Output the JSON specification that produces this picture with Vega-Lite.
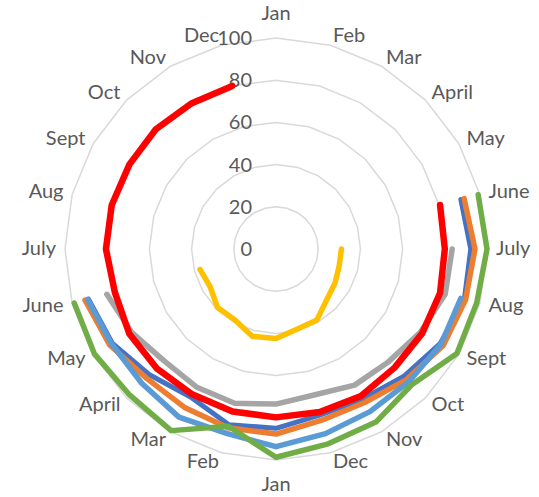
{
  "$schema": "https://vega.github.io/schema/vega-lite/v6.json",
  "width": 539,
  "height": 497,
  "padding": 0,
  "autosize": {"type": "none"},
  "background": "white",
  "config": {"view": {"stroke": null}},
  "datasets": {
    "series": [
      {"s": "blue", "k": 5, "v": 90.7}, {"s": "blue", "k": 6, "v": 92.3}, {"s": "blue", "k": 7, "v": 92.4}, {"s": "blue", "k": 8, "v": 89.8}, {"s": "blue", "k": 9, "v": 85.5}, {"s": "blue", "k": 10, "v": 82}, {"s": "blue", "k": 11, "v": 81.4}, {"s": "blue", "k": 12, "v": 85}, {"s": "blue", "k": 13, "v": 86.2}, {"s": "blue", "k": 14, "v": 81}, {"s": "blue", "k": 15, "v": 84.5}, {"s": "blue", "k": 16, "v": 89.5}, {"s": "blue", "k": 17, "v": 92},
      {"s": "orange", "k": 5, "v": 92.3}, {"s": "orange", "k": 6, "v": 94.3}, {"s": "orange", "k": 7, "v": 93}, {"s": "orange", "k": 8, "v": 91.5}, {"s": "orange", "k": 9, "v": 87.5}, {"s": "orange", "k": 10, "v": 84}, {"s": "orange", "k": 11, "v": 84}, {"s": "orange", "k": 12, "v": 87.7}, {"s": "orange", "k": 13, "v": 87.7}, {"s": "orange", "k": 14, "v": 86.7}, {"s": "orange", "k": 15, "v": 86.7}, {"s": "orange", "k": 16, "v": 91}, {"s": "orange", "k": 17, "v": 93.7},
      {"s": "gray", "k": 6, "v": 83.5}, {"s": "gray", "k": 7, "v": 83}, {"s": "gray", "k": 8, "v": 79}, {"s": "gray", "k": 9, "v": 75.5}, {"s": "gray", "k": 10, "v": 74.5}, {"s": "gray", "k": 11, "v": 71.5}, {"s": "gray", "k": 12, "v": 73.5}, {"s": "gray", "k": 13, "v": 75.7}, {"s": "gray", "k": 14, "v": 75.5}, {"s": "gray", "k": 15, "v": 75}, {"s": "gray", "k": 16, "v": 79}, {"s": "gray", "k": 17, "v": 83},
      {"s": "yellow", "k": 6, "v": 31}, {"s": "yellow", "k": 7, "v": 31}, {"s": "yellow", "k": 8, "v": 32.3}, {"s": "yellow", "k": 9, "v": 34}, {"s": "yellow", "k": 10, "v": 38.8}, {"s": "yellow", "k": 11, "v": 39.3}, {"s": "yellow", "k": 12, "v": 42.4}, {"s": "yellow", "k": 13, "v": 42.9}, {"s": "yellow", "k": 14, "v": 38.9}, {"s": "yellow", "k": 15, "v": 39.2}, {"s": "yellow", "k": 16, "v": 36}, {"s": "yellow", "k": 17, "v": 37.3},
      {"s": "lightblue", "k": 7, "v": 90.6}, {"s": "lightblue", "k": 8, "v": 90.3}, {"s": "lightblue", "k": 9, "v": 89}, {"s": "lightblue", "k": 10, "v": 89}, {"s": "lightblue", "k": 11, "v": 90.6}, {"s": "lightblue", "k": 12, "v": 93.7}, {"s": "lightblue", "k": 13, "v": 90.5}, {"s": "lightblue", "k": 14, "v": 92}, {"s": "lightblue", "k": 15, "v": 90}, {"s": "lightblue", "k": 16, "v": 90}, {"s": "lightblue", "k": 17, "v": 92.4},
      {"s": "green", "k": 5, "v": 99.2}, {"s": "green", "k": 6, "v": 100}, {"s": "green", "k": 7, "v": 98.5}, {"s": "green", "k": 8, "v": 99}, {"s": "green", "k": 9, "v": 91}, {"s": "green", "k": 10, "v": 94.7}, {"s": "green", "k": 11, "v": 95.6}, {"s": "green", "k": 12, "v": 98.7}, {"s": "green", "k": 13, "v": 87}, {"s": "green", "k": 14, "v": 99.4}, {"s": "green", "k": 15, "v": 98}, {"s": "green", "k": 16, "v": 99.4}, {"s": "green", "k": 17, "v": 99},
      {"s": "red", "k": 5, "v": 80.5}, {"s": "red", "k": 6, "v": 80}, {"s": "red", "k": 7, "v": 80.5}, {"s": "red", "k": 8, "v": 80}, {"s": "red", "k": 9, "v": 79.5}, {"s": "red", "k": 10, "v": 80.5}, {"s": "red", "k": 11, "v": 80}, {"s": "red", "k": 12, "v": 79.8}, {"s": "red", "k": 13, "v": 79.7}, {"s": "red", "k": 14, "v": 79.5}, {"s": "red", "k": 15, "v": 80}, {"s": "red", "k": 16, "v": 80.3}, {"s": "red", "k": 17, "v": 79.1}, {"s": "red", "k": 18, "v": 80.6}, {"s": "red", "k": 19, "v": 80.6}, {"s": "red", "k": 20, "v": 80.2}, {"s": "red", "k": 21, "v": 80.4}, {"s": "red", "k": 22, "v": 79.8}, {"s": "red", "k": 23, "v": 80}
    ],
    "grid": [
      {"k": 0, "rings": [20, 40, 60, 80, 100]}, {"k": 1, "rings": [20, 40, 60, 80, 100]}, {"k": 2, "rings": [20, 40, 60, 80, 100]}, {"k": 3, "rings": [20, 40, 60, 80, 100]}, {"k": 4, "rings": [20, 40, 60, 80, 100]}, {"k": 5, "rings": [20, 40, 60, 80, 100]}, {"k": 6, "rings": [20, 40, 60, 80, 100]}, {"k": 7, "rings": [20, 40, 60, 80, 100]}, {"k": 8, "rings": [20, 40, 60, 80, 100]}, {"k": 9, "rings": [20, 40, 60, 80, 100]}, {"k": 10, "rings": [20, 40, 60, 80, 100]}, {"k": 11, "rings": [20, 40, 60, 80, 100]}, {"k": 12, "rings": [20, 40, 60, 80, 100]}, {"k": 13, "rings": [20, 40, 60, 80, 100]}, {"k": 14, "rings": [20, 40, 60, 80, 100]}, {"k": 15, "rings": [20, 40, 60, 80, 100]}, {"k": 16, "rings": [20, 40, 60, 80, 100]}, {"k": 17, "rings": [20, 40, 60, 80, 100]}, {"k": 18, "rings": [20, 40, 60, 80, 100]}, {"k": 19, "rings": [20, 40, 60, 80, 100]}, {"k": 20, "rings": [20, 40, 60, 80, 100]}, {"k": 21, "rings": [20, 40, 60, 80, 100]}, {"k": 22, "rings": [20, 40, 60, 80, 100]}, {"k": 23, "rings": [20, 40, 60, 80, 100]}, {"k": 24, "rings": [20, 40, 60, 80, 100]}
    ],
    "cats": [
      {"k": 0, "label": "Jan"}, {"k": 1, "label": "Feb"}, {"k": 2, "label": "Mar"}, {"k": 3, "label": "April"}, {"k": 4, "label": "May"}, {"k": 5, "label": "June"}, {"k": 6, "label": "July"}, {"k": 7, "label": "Aug"}, {"k": 8, "label": "Sept"}, {"k": 9, "label": "Oct"}, {"k": 10, "label": "Nov"}, {"k": 11, "label": "Dec"},
      {"k": 12, "label": "Jan"}, {"k": 13, "label": "Feb"}, {"k": 14, "label": "Mar"}, {"k": 15, "label": "April"}, {"k": 16, "label": "May"}, {"k": 17, "label": "June"}, {"k": 18, "label": "July"}, {"k": 19, "label": "Aug"}, {"k": 20, "label": "Sept"}, {"k": 21, "label": "Oct"}, {"k": 22, "label": "Nov"}, {"k": 23, "label": "Dec"}
    ],
    "ticks": [{"v": 0}, {"v": 20}, {"v": 40}, {"v": 60}, {"v": 80}, {"v": 100}]
  },
  "layer": [
    {
      "data": {"name": "grid"},
      "transform": [
        {"flatten": ["rings"]},
        {"calculate": "datum.rings*sin(datum.k*PI/12)", "as": "px"},
        {"calculate": "datum.rings*cos(datum.k*PI/12)", "as": "py"}
      ],
      "mark": {"type": "line", "color": "#D9D9D9", "strokeWidth": 1.5},
      "encoding": {
        "x": {"field": "px", "type": "quantitative", "scale": {"domain": [-130.81, 124.64], "nice": false, "zero": false}, "axis": null},
        "y": {"field": "py", "type": "quantitative", "scale": {"domain": [-117.54, 118.01], "nice": false, "zero": false}, "axis": null},
        "detail": {"field": "rings", "type": "nominal"},
        "order": {"field": "k", "type": "quantitative"}
      }
    },
    {
      "data": {"name": "ticks"},
      "transform": [
        {"calculate": "0", "as": "px"},
        {"calculate": "datum.v", "as": "py"}
      ],
      "mark": {"type": "text", "align": "right", "baseline": "middle", "dx": -24, "dy": 1, "font": "Lato", "fontSize": 20, "color": "#595959"},
      "encoding": {
        "x": {"field": "px", "type": "quantitative", "scale": {"domain": [-130.81, 124.64], "nice": false, "zero": false}, "axis": null},
        "y": {"field": "py", "type": "quantitative", "scale": {"domain": [-117.54, 118.01], "nice": false, "zero": false}, "axis": null},
        "text": {"field": "v", "type": "quantitative"}
      }
    },
    {
      "data": {"name": "cats"},
      "transform": [
        {"calculate": "104.27*sin(datum.k*PI/12)", "as": "px"},
        {"calculate": "104.27*cos(datum.k*PI/12)", "as": "py"}
      ],
      "encoding": {
        "x": {"field": "px", "type": "quantitative", "scale": {"domain": [-130.81, 124.64], "nice": false, "zero": false}, "axis": null},
        "y": {"field": "py", "type": "quantitative", "scale": {"domain": [-117.54, 118.01], "nice": false, "zero": false}, "axis": null},
        "text": {"field": "label", "type": "nominal"}
      },
      "layer": [
        {"transform": [{"filter": "datum.k >= 1 && datum.k <= 11"}], "mark": {"type": "text", "align": "left", "baseline": "middle", "font": "Lato", "fontSize": 20, "color": "#595959"}},
        {"transform": [{"filter": "datum.k >= 13"}], "mark": {"type": "text", "align": "right", "baseline": "middle", "font": "Lato", "fontSize": 20, "color": "#595959"}},
        {"transform": [{"filter": "datum.k == 0"}], "mark": {"type": "text", "align": "center", "baseline": "alphabetic", "dy": -9, "font": "Lato", "fontSize": 20, "color": "#595959"}},
        {"transform": [{"filter": "datum.k == 12"}], "mark": {"type": "text", "align": "center", "baseline": "alphabetic", "dy": 22, "font": "Lato", "fontSize": 20, "color": "#595959"}}
      ]
    },
    {
      "data": {"name": "series"},
      "transform": [
        {"calculate": "datum.v*sin(datum.k*PI/12)", "as": "px"},
        {"calculate": "datum.v*cos(datum.k*PI/12)", "as": "py"}
      ],
      "encoding": {
        "x": {"field": "px", "type": "quantitative", "scale": {"domain": [-130.81, 124.64], "nice": false, "zero": false}, "axis": null},
        "y": {"field": "py", "type": "quantitative", "scale": {"domain": [-117.54, 118.01], "nice": false, "zero": false}, "axis": null},
        "order": {"field": "k", "type": "quantitative"}
      },
      "layer": [
        {"transform": [{"filter": "datum.s == 'blue'"}], "mark": {"type": "line", "color": "#4472C4", "strokeWidth": 5, "strokeCap": "round", "strokeJoin": "round"}},
        {"transform": [{"filter": "datum.s == 'orange'"}], "mark": {"type": "line", "color": "#ED7D31", "strokeWidth": 5.5, "strokeCap": "round", "strokeJoin": "round"}},
        {"transform": [{"filter": "datum.s == 'gray'"}], "mark": {"type": "line", "color": "#A5A5A5", "strokeWidth": 5.5, "strokeCap": "round", "strokeJoin": "round"}},
        {"transform": [{"filter": "datum.s == 'yellow'"}], "mark": {"type": "line", "color": "#FFC000", "strokeWidth": 5.5, "strokeCap": "round", "strokeJoin": "round"}},
        {"transform": [{"filter": "datum.s == 'lightblue'"}], "mark": {"type": "line", "color": "#5B9BD5", "strokeWidth": 5.5, "strokeCap": "round", "strokeJoin": "round"}},
        {"transform": [{"filter": "datum.s == 'green'"}], "mark": {"type": "line", "color": "#70AD47", "strokeWidth": 5.5, "strokeCap": "round", "strokeJoin": "round"}},
        {"transform": [{"filter": "datum.s == 'red'"}], "mark": {"type": "line", "color": "#FF0000", "strokeWidth": 6.5, "strokeCap": "round", "strokeJoin": "round"}}
      ]
    }
  ]
}
